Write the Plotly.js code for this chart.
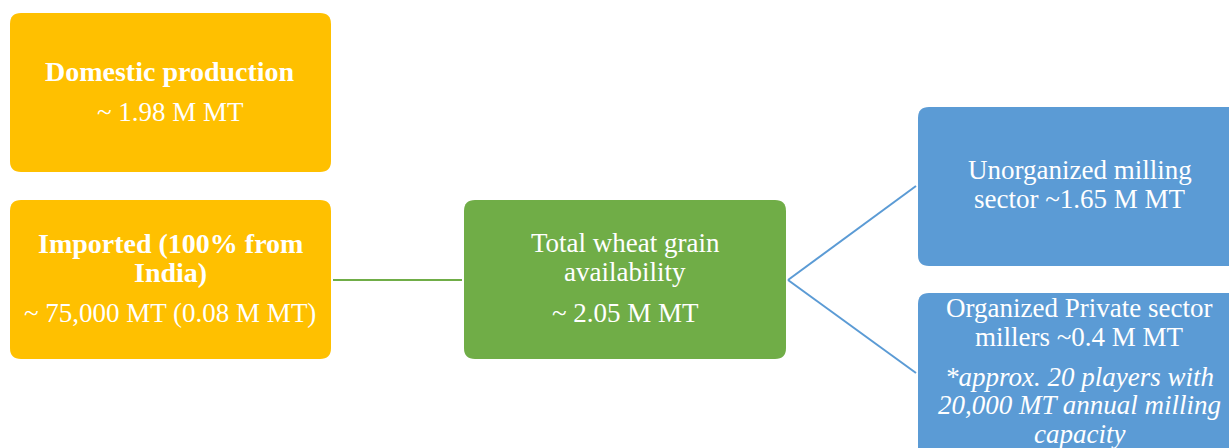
<!DOCTYPE html>
<html>
<head>
<meta charset="utf-8">
<script src="https://cdn.plot.ly/plotly-3.0.1.min.js"></script>
<style>html,body{margin:0;padding:0;background:#fff;}#chart{width:1229px;height:448px;}</style>
</head>
<body>
<div id="chart"></div>
<script>
// ---- data ----
const sourceLabels = [["Domestic production"], ["Imported (100% from", "India)"]];
const sourceValues = ["~ 1.98 M MT", "~ 75,000 MT (0.08 M MT)"];
const totalLabel = ["Total wheat grain", "availability"];
const totalValue = "~ 2.05 M MT";
const useLabels = [["Unorganized milling", "sector ~1.65 M MT"], ["Organized Private sector", "millers ~0.4 M MT"]];
const useNotes = [[], ["*approx. 20 players with", "20,000 MT annual milling", "capacity"]];

// ---- layout / style ----
const W = 1229, H = 448;
const YELLOW = "#FFC000", GREEN = "#70AD47", BLUE = "#5B9BD5";
const FONT = "Liberation Serif, Times New Roman, serif";
const FS = 27;

function rrect(x0, y0, x1, y1, r) {
  return `M${x0+r},${y0} L${x1-r},${y0} Q${x1},${y0} ${x1},${y0+r} L${x1},${y1-r} Q${x1},${y1} ${x1-r},${y1} ` +
         `L${x0+r},${y1} Q${x0},${y1} ${x0},${y1-r} L${x0},${y0+r} Q${x0},${y0} ${x0+r},${y0} Z`;
}
const boxes = [
  {x0: 10, y0: 13, x1: 331, y1: 172, c: YELLOW},
  {x0: 10, y0: 200, x1: 331, y1: 359, c: YELLOW},
  {x0: 464, y0: 200, x1: 786, y1: 359, c: GREEN},
  {x0: 918, y0: 107, x1: 1242, y1: 266, c: BLUE},
  {x0: 918, y0: 293, x1: 1242, y1: 470, c: BLUE}
];
const shapes = boxes.map(b => ({type: "path", xref: "x", yref: "y", path: rrect(b.x0, b.y0, b.x1, b.y1, 11),
  fillcolor: b.c, line: {width: 0}, layer: "below"}));
shapes.push({type: "line", xref: "x", yref: "y", x0: 333, y0: 280, x1: 462, y1: 280, line: {color: GREEN, width: 2}});
shapes.push({type: "line", xref: "x", yref: "y", x0: 788, y0: 280, x1: 916, y1: 186, line: {color: BLUE, width: 2}});
shapes.push({type: "line", xref: "x", yref: "y", x0: 788, y0: 280, x1: 916, y1: 373, line: {color: BLUE, width: 2}});

const annotations = [];
function txt(text, x, y, bold, italic) {
  let t = text;
  if (bold) t = "<b>" + t + "</b>";
  if (italic) t = "<i>" + t + "</i>";
  annotations.push({x: x, y: y, xref: "x", yref: "y", text: t, showarrow: false,
    xanchor: "center", yanchor: "middle", font: {family: FONT, size: bold ? FS + 1 : FS, color: "#FFFFFF"}});
}
// source boxes
txt(sourceLabels[0][0], 170, 71, true);
txt(sourceValues[0], 170, 112, false);
txt(sourceLabels[1][0], 170, 243, true);
txt(sourceLabels[1][1], 170, 272, true);
txt(sourceValues[1], 170, 313, false);
// total
txt(totalLabel[0], 625, 243, false);
txt(totalLabel[1], 625, 272, false);
txt(totalValue, 625, 313, false);
// uses
txt(useLabels[0][0], 1080, 170, false);
txt(useLabels[0][1], 1080, 199, false);
txt(useLabels[1][0], 1079, 308, false);
txt(useLabels[1][1], 1079, 337, false);
const noteY = [377, 405, 434];
useNotes[1].forEach((l, i) => txt(l, 1079, noteY[i], false, true));

const layout = {
  width: W, height: H,
  margin: {l: 0, r: 0, t: 0, b: 0},
  paper_bgcolor: "#FFFFFF", plot_bgcolor: "#FFFFFF",
  xaxis: {range: [0, W], visible: false, fixedrange: true},
  yaxis: {range: [H, 0], visible: false, fixedrange: true},
  showlegend: false,
  shapes: shapes,
  annotations: annotations
};
Plotly.newPlot("chart", [{x: [], y: [], type: "scatter"}], layout, {displayModeBar: false, staticPlot: true});
</script>
</body>
</html>
